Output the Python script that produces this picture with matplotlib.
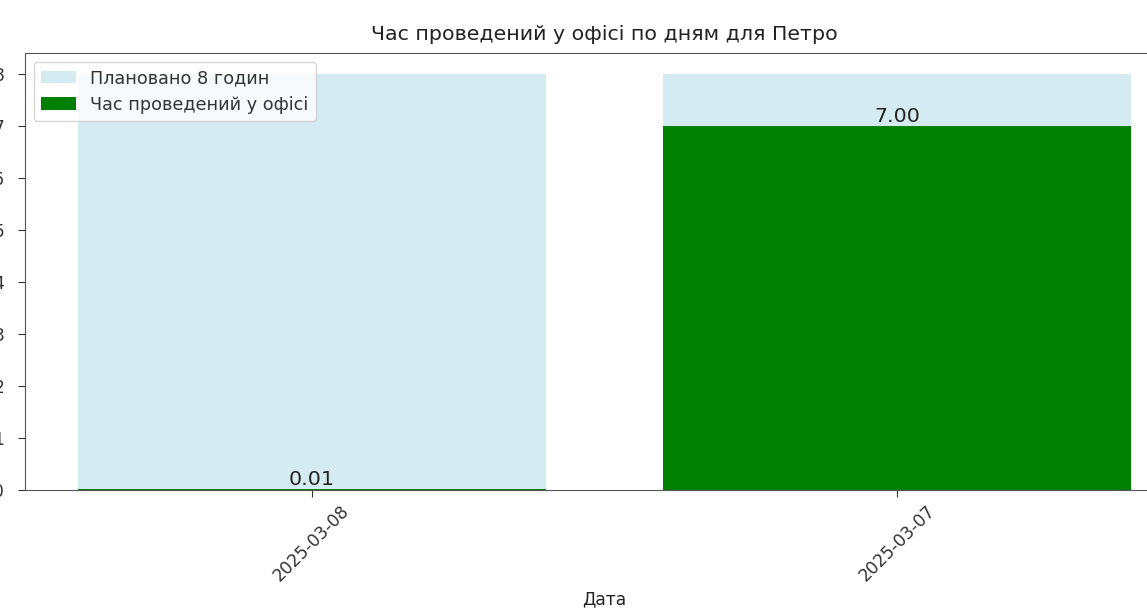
import matplotlib
matplotlib.use("Agg")
import matplotlib.pyplot as plt

dates = ["2025-03-08", "2025-03-07"]
hours = [0.01, 7.00]
planned = [8, 8]

s = 1.23  # screenshot scale

fig = plt.figure(figsize=(11.47, 6.12), dpi=100)
ax = fig.add_axes([25 / 1147, 1 - 490 / 612, (1184 - 25) / 1147, (490 - 53) / 612])

x = range(len(dates))
ax.bar(x, planned, color="lightblue", alpha=0.5, label="Плановано 8 годин")
bars = ax.bar(x, hours, color="green", label="Час проведений у офісі")

for b, h in zip(bars, hours):
    ax.text(b.get_x() + b.get_width() / 2, b.get_height(), f"{h:.2f}",
            ha="center", va="bottom", fontsize=12 * s, color="#222222")

ax.set_xticks(list(x))
ax.set_xticklabels(dates, rotation=45, fontsize=10 * s, color="#333333")
ax.tick_params(axis="y", labelsize=10 * s, length=5, pad=10, colors="#333333")
ax.tick_params(axis="x", length=5, colors="#333333")
for sp in ax.spines.values():
    sp.set_color("#555555")
ax.set_xlabel("Дата", fontsize=10 * s, color="#222222")
ax.set_title("Час проведений у офісі по дням для Петро", fontsize=12 * s, pad=9,
             color="#222222")
leg = ax.legend(loc="upper left", fontsize=10 * 1.27)
for t in leg.get_texts():
    t.set_color("#333333")

fig.savefig("out.png", dpi=100)
